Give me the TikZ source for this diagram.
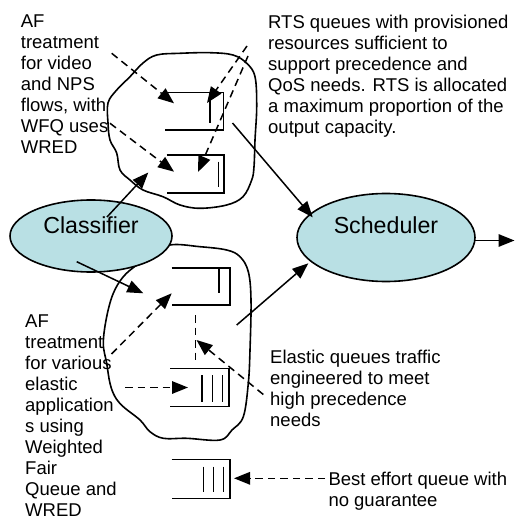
\documentclass[tikz,border=0pt]{standalone}
\usepackage{fontspec}
\setmainfont{Liberation Sans}
\usetikzlibrary{arrows.meta,shapes.geometric}
\definecolor{cellfill}{RGB}{185,224,228}
\begin{document}
\begin{tikzpicture}[x=1pt,y=-1pt,
  every node/.style={inner sep=0pt},
  txt/.style={font=\fontsize{18.5}{21}\selectfont, anchor=north west, align=left},
  blob/.style={line width=1.6pt, line join=round},
  qline/.style={line width=1.6pt},
  ell/.style={ellipse, draw, line width=1.6pt, fill=cellfill, font=\fontsize{23.2}{27}\selectfont, text height=16.6pt},
  sol/.style={line width=1.5pt, -{Triangle[length=16pt,width=12.5pt]}},
  dsh/.style={line width=1.5pt, dash pattern=on 7.5pt off 5pt, -{Triangle[length=16pt,width=12.5pt]}},
  dshplain/.style={line width=1.5pt, dash pattern=on 7.5pt off 5pt}
]
\useasboundingbox (0,0) rectangle (515,521);

% blobs
\draw[blob] plot[smooth cycle, tension=0.6] coordinates {
 (156.7,55) (180,53.3) (210,52.7) (233,55) (246.7,63.3) (255,76.7) (256.7,106.7)
 (255,140) (254,166.7) (251.7,180) (243,196.7) (226.7,205) (200,208.3) (180,205)
 (163,196.7) (143,190) (130,180) (120,170) (116.7,153) (110,140) (108,123)
 (108,103) (116.7,90) (130,76.7) (143,63)};
\draw[blob] plot[smooth cycle, tension=0.6] coordinates {
 (170,245) (200,246.7) (226.7,250) (240,256.7) (248.3,271.7) (251,300) (250,350)
 (248.3,383.3) (243.3,416.7) (232,430) (220,440) (186.7,438.3) (163.3,438.3)
 (150,431.7) (140,420) (123.3,406.7) (115,396.7) (110,383.3) (106.7,363.3)
 (103.3,343.3) (106.7,316.7) (113.3,293.3) (123.3,276.7) (136.7,265) (150,256)};

% queues
\draw[qline] (167,92.7) -- (223.3,92.7) -- (223.3,130) -- (165,130);
\draw[qline] (210,92.7) -- (210,123.3);
\draw[qline] (166.7,155) -- (224,155) -- (224,193.3) -- (166.7,193.3);
\draw[qline] (218.3,161.7) -- (218.3,186.7);
\draw[qline] (171.7,267.7) -- (230,267.7) -- (230,305) -- (171.7,305);
\draw[qline] (219,267.7) -- (219,293.3);
\draw[qline] (170,368.5) -- (229,368.5) -- (229,406.5) -- (170,406.5);
\foreach \bx in {202,212.5,222.5} \draw[qline] (\bx,375) -- (\bx,401.7);
\draw[qline] (171.7,459.3) -- (230,459.3) -- (230,498.3) -- (171.7,498.3);
\foreach \bx in {203.3,213.3,223.3} \draw[qline] (\bx,466.7) -- (\bx,491.7);

% ellipses
\node[ell, minimum width=162pt, minimum height=72pt, text depth=22pt] (classifier) at (91,236) {Classifier};
\node[ell, minimum width=178pt, minimum height=88pt, text depth=25pt] (scheduler) at (386,237.5) {Scheduler};

% connector end points
\coordinate (s1) at (232.5,123);   \coordinate (e1) at (312.7,217.3);
\coordinate (s2) at (236.7,325);   \coordinate (e2) at (308.3,263.3);
\coordinate (s3) at (107,217);     \coordinate (e3) at (148.3,172.5);
\coordinate (s4) at (76.7,261.7);  \coordinate (e4) at (143.3,293.3);
\coordinate (o1) at (475,240.5);   \coordinate (o2) at (514.5,240.5);
\coordinate (d1s) at (111.7,53.3); \coordinate (d1e) at (174,103.3);
\coordinate (d2s) at (110,123.3);  \coordinate (d2e) at (174,171.7);
\coordinate (d3s) at (247,46);     \coordinate (d3e) at (207,103);
\coordinate (d4s) at (248,56);     \coordinate (d4e) at (198,172);
\coordinate (d5s) at (111.5,354);  \coordinate (d5e) at (171.7,293.3);
\coordinate (d6s) at (125,387.5);  \coordinate (d6e) at (188,387.5);
\coordinate (d7s) at (195.5,315);  \coordinate (d7e) at (195.5,361.7);
\coordinate (d8s) at (263.3,394.5);\coordinate (d8e) at (196.5,340);
\coordinate (d9s) at (325,478.3);  \coordinate (d9e) at (234,478.3);

% solid arrows
\draw[sol] (s1) -- (e1);
\draw[sol] (s2) -- (e2);
\draw[sol] (s3) -- (e3);
\draw[sol] (s4) -- (e4);
\draw[sol] (o1) -- (o2);

% dashed arrows
\draw[dsh] (d1s) -- (d1e);
\draw[dsh] (d2s) -- (d2e);
\draw[dsh] (d3s) -- (d3e);
\draw[dsh] (d4s) -- (d4e);
\draw[dsh] (d5s) -- (d5e);
\draw[dsh] (d6s) -- (d6e);
\draw[dshplain] (d7s) -- (d7e);
\draw[dsh] (d8s) -- (d8e);
\draw[dsh] (d9s) -- (d9e);

% texts
\node[txt] (afvideo) at (20.7,14.75) {AF\\treatment\\for video\\and NPS\\flows, with\\WFQ uses\\WRED};
\node[txt] (afelastic) at (25,315) {AF\\treatment\\for various\\elastic\\application\\s using\\Weighted\\Fair\\Queue and\\WRED};
\node[txt] (rts) at (268,15) {RTS queues with provisioned\\resources sufficient to\\support precedence and\\QoS needs. RTS is allocated\\a maximum proportion of the\\output capacity.};
\node[txt] (elastic) at (270,350) {Elastic queues traffic\\engineered to meet\\high precedence\\needs};
\node[txt] (besteffort) at (328.3,471.7) {Best effort queue with\\no guarantee};
\end{tikzpicture}
\end{document}
